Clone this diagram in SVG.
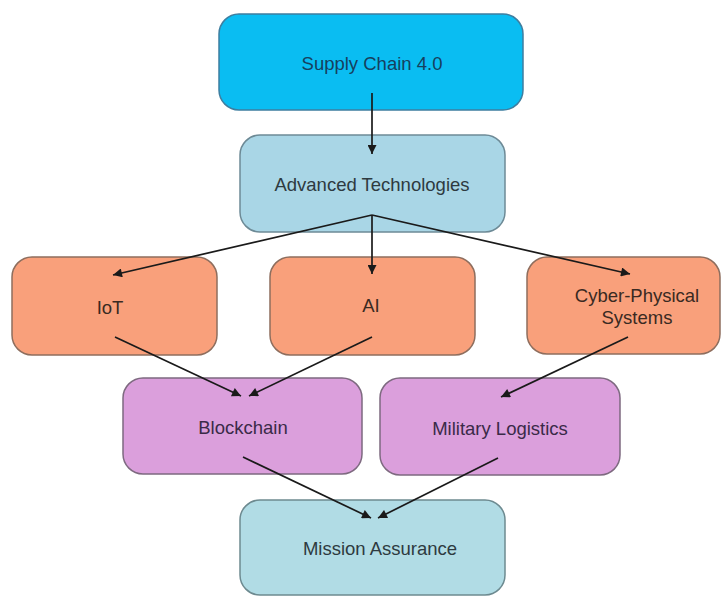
<svg xmlns="http://www.w3.org/2000/svg" width="721" height="596" viewBox="0 0 721 596">
<defs>
<marker id="ah" viewBox="0 0 10 10" refX="10" refY="5" markerWidth="13" markerHeight="9" markerUnits="userSpaceOnUse" orient="auto">
<path d="M0,0 L10,5 L0,10 z" fill="#1a1a1a"/>
</marker>
</defs>
<style>
text{font-family:"Liberation Sans",Arial,sans-serif;font-size:18.5px;text-anchor:middle}
.box{stroke-width:1.5}
.c{fill:none;stroke:#1a1a1a;stroke-width:1.7;marker-end:url(#ah)}
</style>
<rect width="721" height="596" fill="#ffffff"/>
<g id="supply-chain">
<rect class="box" x="219" y="14" width="304" height="96" rx="20" fill="#0ABDF2" stroke="#3E7EA0"/>
<text x="372" y="69.5" fill="#16405E">Supply Chain 4.0</text>
</g>
<g id="advanced-tech">
<rect class="box" x="240" y="135" width="265" height="97" rx="20" fill="#A9D6E6" stroke="#6D8A96"/>
<text x="372" y="190.5" fill="#2E3A40">Advanced Technologies</text>
</g>
<g id="iot">
<rect class="box" x="12" y="257" width="205" height="98" rx="20" fill="#F9A07B" stroke="#8E6E5E"/>
<text x="110" y="313.5" fill="#3A2A22">IoT</text>
</g>
<g id="ai">
<rect class="box" x="270" y="257" width="205" height="98" rx="20" fill="#F9A07B" stroke="#8E6E5E"/>
<text x="371" y="311.5" fill="#3A2A22">AI</text>
</g>
<g id="cps">
<rect class="box" x="527" y="257" width="193" height="97" rx="20" fill="#F9A07B" stroke="#8E6E5E"/>
<text x="637" y="301.5" fill="#3A2A22">Cyber-Physical</text>
<text x="637" y="323.5" fill="#3A2A22">Systems</text>
</g>
<g id="blockchain">
<rect class="box" x="123" y="378" width="239" height="96" rx="20" fill="#DB9FDC" stroke="#7E6A80"/>
<text x="243" y="433.5" fill="#3A2A48">Blockchain</text>
</g>
<g id="military-logistics">
<rect class="box" x="380" y="378" width="240" height="97" rx="20" fill="#DB9FDC" stroke="#7E6A80"/>
<text x="500" y="434.5" fill="#3A2A48">Military Logistics</text>
</g>
<g id="mission-assurance">
<rect class="box" x="240" y="500" width="265" height="95" rx="20" fill="#B1DCE5" stroke="#6D8A90"/>
<text x="380" y="554.5" fill="#2E3A40">Mission Assurance</text>
</g>
<g id="connectors">
<line class="c" x1="372" y1="93" x2="372" y2="154"/>
<line class="c" x1="372" y1="215" x2="113" y2="275"/>
<line class="c" x1="372" y1="215" x2="372" y2="274"/>
<line class="c" x1="372" y1="215" x2="630" y2="274"/>
<line class="c" x1="115" y1="337" x2="241" y2="396"/>
<line class="c" x1="372" y1="337" x2="249" y2="396"/>
<line class="c" x1="628" y1="337" x2="501" y2="397"/>
<line class="c" x1="243" y1="457" x2="371" y2="518"/>
<line class="c" x1="498" y1="458" x2="378" y2="518"/>
</g>
</svg>
